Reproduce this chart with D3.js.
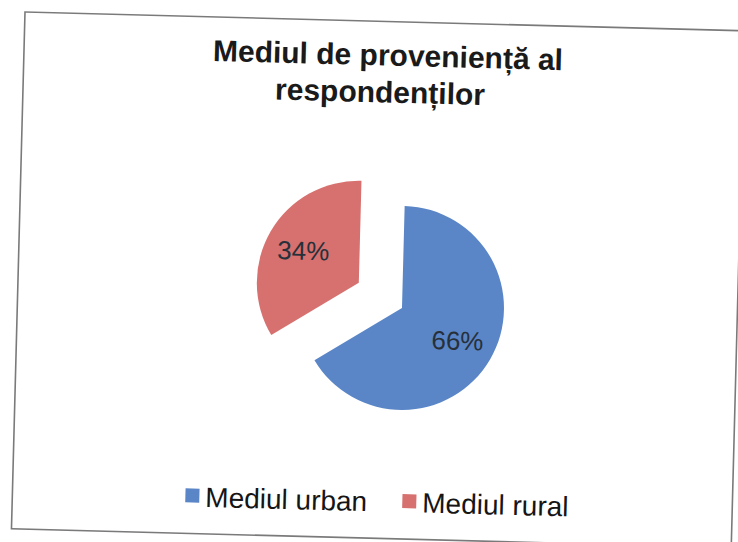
<!DOCTYPE html>
<html>
<head>
<meta charset="utf-8">
<script src="https://cdn.jsdelivr.net/npm/d3@7"></script>
<style>
  body { margin: 0; background: #fff; }
  svg { display: block; }
</style>
</head>
<body>
<div id="chart"></div>
<script>
// chart data
const titleLines = ['Mediul de provenienț\u0103 al', 'respondenților'];
const categories = ['Mediul urban', 'Mediul rural'];
const shares = [66, 34];
const colors = ['#5a86c7', '#d6716f'];

const width = 738;
const height = 542;

const svg = d3
  .select('#chart')
  .append('svg')
  .attr('width', width)
  .attr('height', height);

svg.append('rect').attr('width', width).attr('height', height).attr('fill', '#fff');

// the scanned page is a little tilted, so the whole chart sits in a rotated group
const g = svg.append('g').attr('transform', 'translate(25,12) rotate(1.5)');

g.append('rect')
  .attr('width', 720)
  .attr('height', 517)
  .attr('fill', 'none')
  .attr('stroke', '#7a7a7a')
  .attr('stroke-width', 1.6);

// title, two lines
const titleX = [364, 357];
g.selectAll('text.title')
  .data(titleLines)
  .join('text')
  .attr('class', 'title')
  .attr('x', (d, i) => titleX[i])
  .attr('y', (d, i) => 44 + i * 37)
  .attr('text-anchor', 'middle')
  .attr('font-family', 'Liberation Sans, Arial, sans-serif')
  .attr('font-weight', 'bold')
  .attr('font-size', 30)
  .attr('fill', '#1a1a1a')
  .text((d) => d);

// pie
const radius = 102;
const explode = 50;
const pieData = d3.pie().sort(null).value((d) => d)(shares);
const arc = d3.arc().innerRadius(0).outerRadius(radius);
const labelArc = d3.arc().innerRadius(radius * 0.63).outerRadius(radius * 0.63);

const pieG = g.append('g').attr('transform', 'translate(384.6,286)');

// only the rural slice is pulled out
function offset(d, i) {
  if (i === 0) return [0, 0];
  const mid = (d.startAngle + d.endAngle) / 2;
  return [Math.sin(mid) * explode, -Math.cos(mid) * explode];
}

const slices = pieG
  .selectAll('g.slice')
  .data(pieData)
  .join('g')
  .attr('class', 'slice')
  .attr('transform', (d, i) => `translate(${offset(d, i)})`);

slices
  .append('path')
  .attr('d', arc)
  .attr('fill', (d, i) => colors[i]);

slices
  .append('text')
  .attr('transform', (d) => `translate(${labelArc.centroid(d)})`)
  .attr('dy', '0.36em')
  .attr('text-anchor', 'middle')
  .attr('font-family', 'Liberation Sans, Arial, sans-serif')
  .attr('font-size', 26)
  .attr('fill', '#27303a')
  .text((d) => d.data + '%');

// legend
const legendX = [173, 390];
const legend = g
  .selectAll('g.legend')
  .data(categories)
  .join('g')
  .attr('class', 'legend')
  .attr('transform', (d, i) => `translate(${legendX[i]},472)`);

legend
  .append('rect')
  .attr('width', 14)
  .attr('height', 14)
  .attr('fill', (d, i) => colors[i]);

legend
  .append('text')
  .attr('x', 20)
  .attr('y', 18)
  .attr('font-family', 'Liberation Sans, Arial, sans-serif')
  .attr('font-size', 28)
  .attr('fill', '#151515')
  .text((d) => d);
</script>
</body>
</html>
